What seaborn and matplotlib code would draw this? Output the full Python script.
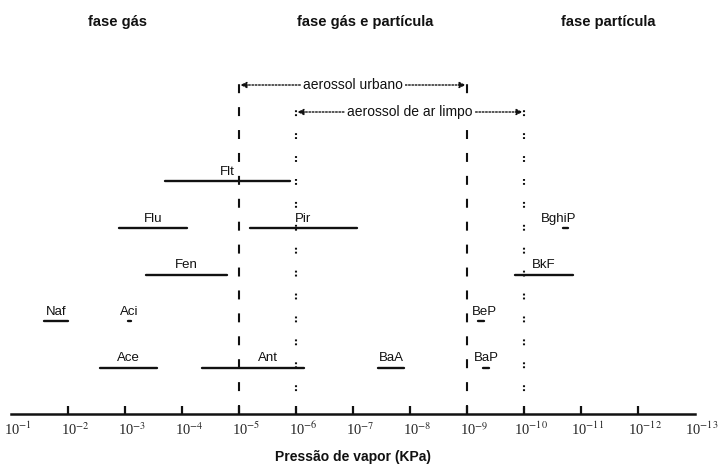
import numpy as np
import pandas as pd
import matplotlib
matplotlib.use("Agg")
import matplotlib.pyplot as plt
import matplotlib.transforms as mtransforms
import seaborn as sns

# ---- data -------------------------------------------------------------
compounds = ['Naf', 'Aci', 'Ace', 'Flu', 'Fen', 'Ant', 'Flt', 'Pir',
             'BaA', 'BeP', 'BaP', 'BkF', 'BghiP']
p_high = [2.6e-2, 9.0e-4, 2.75e-3, 1.3e-3, 4.3e-4, 4.5e-5, 2.0e-4, 6.5e-6,
          3.6e-8, 6.5e-10, 5.2e-10, 1.45e-10, 2.1e-11]
p_low = [1.0e-2, 7.8e-4, 2.75e-4, 8.1e-5, 1.6e-5, 7.2e-7, 1.3e-6, 8.5e-8,
         1.3e-8, 5.0e-10, 4.1e-10, 1.4e-11, 1.7e-11]
row = [2, 2, 1, 4, 3, 1, 5, 4, 1, 2, 1, 3, 4]
label_at = [None, 8.5e-4, None, None, None, 3.1e-6, None, None,
            None, 5.0e-10, None, None, 2.5e-11]

tick_exp = list(range(-1, -14, -1))
tick_labels = ['10$^{%d}$' % e for e in tick_exp]

urban_range = [1e-5, 1e-9]
clean_range = [1e-6, 1e-10]
phase_titles = ['fase gás', 'fase gás e partícula', 'fase partícula']

# ---- figure -----------------------------------------------------------
sns.set_theme(style='white')
plt.rcParams['font.family'] = ['Liberation Sans', 'DejaVu Sans']
plt.rcParams['mathtext.fontset'] = 'stix'

W, H = 721, 466
fig = plt.figure(figsize=(W / 100, H / 100), dpi=100)
x0, x1 = 11, 695          # pixel positions of 10^-1 and 10^-13
y_axis = 414              # pixel row of axis line
unit = 46.5               # pixels per row level
ax = fig.add_axes([x0 / W, (H - y_axis) / H, (x1 - x0) / W, y_axis / H])

df = pd.DataFrame({
    'compound': np.repeat(compounds, 2),
    'pressure': np.ravel(np.column_stack([p_high, p_low])),
    'level': np.repeat(row, 2),
})
sns.lineplot(data=df, x='pressure', y='level', units='compound',
             estimator=None, color='#111111', lw=1.7, ax=ax,
             legend=False, sort=True)

ax.set_xscale('log')
ax.set_xlim(1e-1, 1e-13)
ax.set_ylim(0, y_axis / unit)

# compound labels
for c, hi, lo, r, la in zip(compounds, p_high, p_low, row, label_at):
    xc = la if la is not None else np.sqrt(hi * lo)
    ax.annotate(c, (xc, r), xytext=(0, 2.5), textcoords='offset points',
                ha='center', va='bottom', fontsize=9.5, color='#111111')

# vertical phase-boundary lines
ytop_u = (y_axis - 80) / unit
ytop_c = (y_axis - 108) / unit
for xv in urban_range:
    ax.vlines(xv, 0, ytop_u, colors='#111111', lw=1.5,
              linestyles=[(0, (4.3, 6.7))])
for xv in clean_range:
    ax.vlines(xv, 0, ytop_c, colors='#111111', lw=1.5,
              linestyles=[(0, (0.9, 1.0, 0.9, 8.2))])

# aerosol range arrows
def range_arrow(rng, ypx, txt, xtxt):
    yv = (y_axis - ypx) / unit
    ax.annotate('', xy=(rng[1], yv), xytext=(rng[0], yv),
                arrowprops=dict(arrowstyle='<|-|>,head_length=0.3,head_width=0.15',
                                color='#111111', lw=1.0, linestyle=(0, (1.2, 1.2)),
                                shrinkA=1, shrinkB=1))
    ax.text(xtxt, yv, txt, ha='center', va='center', fontsize=10,
            color='#111111',
            bbox=dict(facecolor='white', edgecolor='none', pad=1.5))

range_arrow(urban_range, 85, 'aerossol urbano', 1e-7)
range_arrow(clean_range, 112, 'aerossol de ar limpo', 1e-8)

# phase titles
for t, xp in zip(phase_titles, [117, 365, 608]):
    fig.text(xp / W, 1 - 22 / H, t, ha='center', va='center',
             fontsize=10.5, fontweight='bold', color='#111111')

# axes styling
for s in ['top', 'left', 'right']:
    ax.spines[s].set_visible(False)
ax.spines['bottom'].set_linewidth(1.8)
ax.spines['bottom'].set_color('#111111')
ax.set_yticks([])
ax.set_ylabel('')
ax.set_xticks([10.0 ** e for e in tick_exp])
ax.set_xticklabels(tick_labels, fontfamily='Liberation Serif', fontsize=10.5)
ax.xaxis.set_minor_locator(matplotlib.ticker.NullLocator())
ax.tick_params(axis='x', direction='in', length=6, width=1.6,
               color='#111111', pad=5, bottom=True)
ticks = ax.xaxis.get_major_ticks()
ticks[0].tick1line.set_visible(False)
ticks[-1].tick1line.set_visible(False)
off = mtransforms.ScaledTranslation(5 / 72, 0, fig.dpi_scale_trans)
for lab in ax.get_xticklabels():
    lab.set_transform(lab.get_transform() + off)
ax.set_xlabel('Pressão de vapor (KPa)', fontsize=10, fontweight='bold',
              color='#111111', labelpad=8)
ax.patch.set_alpha(0)

fig.savefig('out.png', dpi=100, facecolor='white')
